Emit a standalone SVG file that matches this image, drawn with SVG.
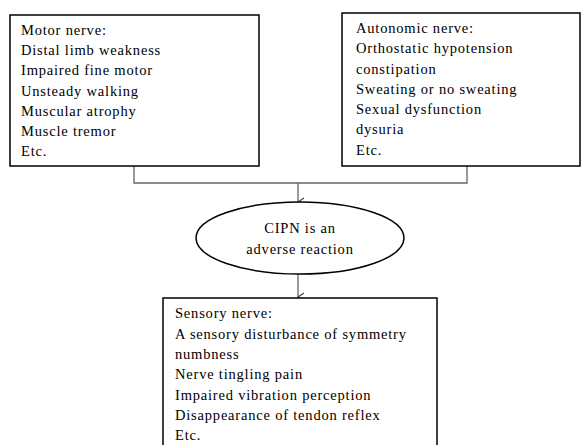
<svg xmlns="http://www.w3.org/2000/svg" width="583" height="445" viewBox="0 0 583 445">
<style>
.box{fill:#fff;stroke:#000;stroke-width:1.5}
.t{font-family:'Liberation Serif','DejaVu Serif',serif;font-size:14.5px;letter-spacing:0.8px;fill:#000}
.c{fill:none;stroke:#666;stroke-width:1.3}
</style>
<defs>
<marker id="arr" markerWidth="10" markerHeight="10" refX="5" refY="9" orient="auto" markerUnits="userSpaceOnUse" viewBox="0 0 10 10">
<path d="M1,3 L5,9 L9,3" fill="none" stroke="#444" stroke-width="1.2"/>
</marker>
</defs>
<rect width="583" height="445" fill="#fff"/>
<g id="connectors">
<path class="c" d="M134,166 V183 H467 V166"/>
<path class="c" d="M298,183 V202" marker-end="url(#arr)"/>
<path class="c" d="M298,274 V297" marker-end="url(#arr)"/>
</g>
<g id="motor">
<rect class="box" x="10" y="15" width="249" height="151"/>
<text class="t" x="21" y="35">Motor nerve:</text>
<text class="t" x="21" y="55">Distal limb weakness</text>
<text class="t" x="21" y="75">Impaired fine motor</text>
<text class="t" x="21" y="96">Unsteady walking</text>
<text class="t" x="21" y="116">Muscular atrophy</text>
<text class="t" x="21" y="136">Muscle tremor</text>
<text class="t" x="21" y="156">Etc.</text>
</g>
<g id="autonomic">
<rect class="box" x="342" y="13" width="238" height="153"/>
<text class="t" x="356" y="33">Autonomic nerve:</text>
<text class="t" x="356" y="53">Orthostatic hypotension</text>
<text class="t" x="356" y="74">constipation</text>
<text class="t" x="356" y="94">Sweating or no sweating</text>
<text class="t" x="356" y="114">Sexual dysfunction</text>
<text class="t" x="356" y="134">dysuria</text>
<text class="t" x="356" y="155">Etc.</text>
</g>
<g id="cipn">
<ellipse class="box" cx="300" cy="238" rx="104" ry="36"/>
<text class="t" x="300" y="233" text-anchor="middle">CIPN is an</text>
<text class="t" x="300" y="254" text-anchor="middle">adverse reaction</text>
</g>
<g id="sensory">
<rect class="box" x="163" y="298" width="274" height="160"/>
<text class="t" x="175" y="318">Sensory nerve:</text>
<text class="t" x="175" y="339">A sensory disturbance of symmetry</text>
<text class="t" x="175" y="359">numbness</text>
<text class="t" x="175" y="379">Nerve tingling pain</text>
<text class="t" x="175" y="400">Impaired vibration perception</text>
<text class="t" x="175" y="420">Disappearance of tendon reflex</text>
<text class="t" x="175" y="440">Etc.</text>
</g>
</svg>
